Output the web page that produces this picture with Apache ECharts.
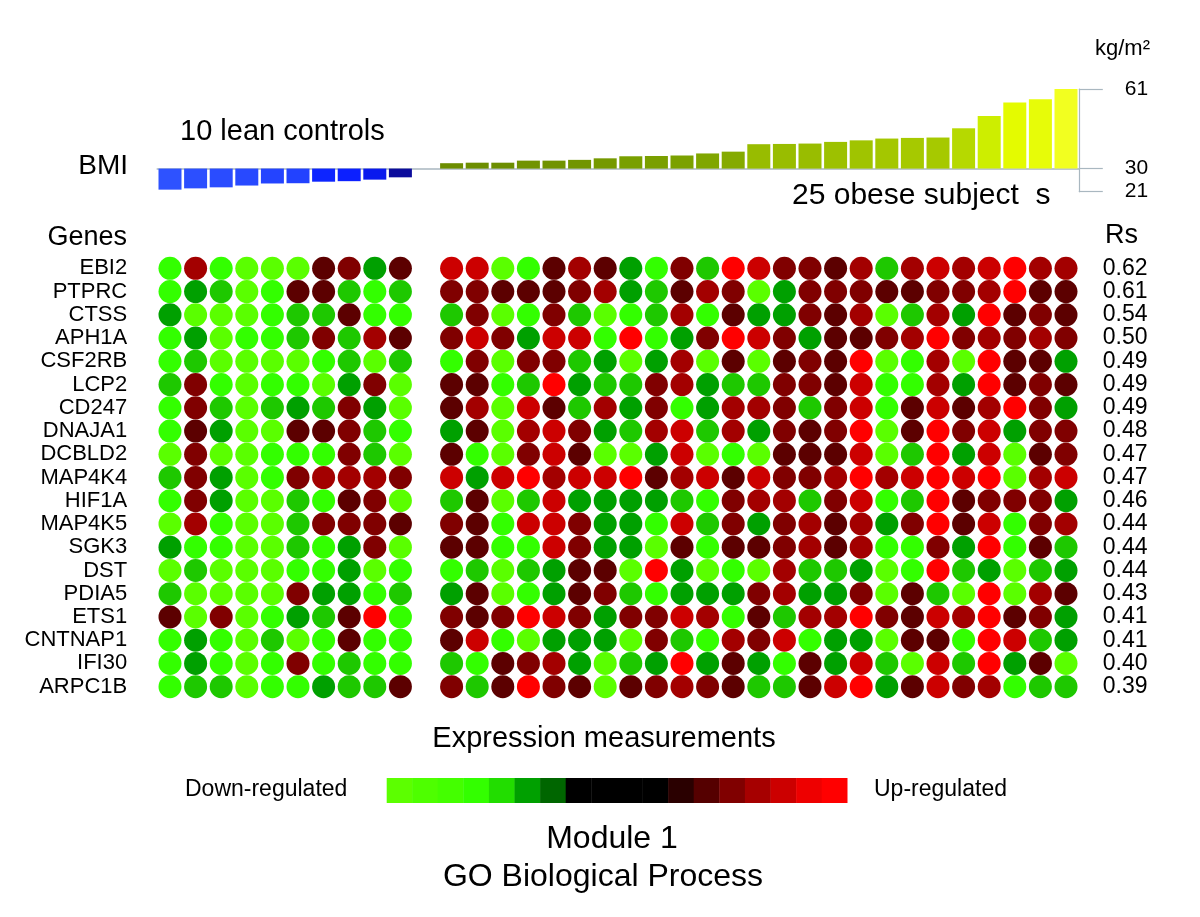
<!DOCTYPE html>
<html><head><meta charset="utf-8">
<script src="https://cdn.jsdelivr.net/npm/echarts@6/dist/echarts.min.js"></script>
<style>html,body{margin:0;padding:0;background:#fff}#c{width:1200px;height:917px}</style>
</head><body><div id="c"></div>
<script>
// ---------------- DATA ----------------
const genes = ['EBI2','PTPRC','CTSS','APH1A','CSF2RB','LCP2','CD247','DNAJA1','DCBLD2','MAP4K4','HIF1A','MAP4K5','SGK3','DST','PDIA5','ETS1','CNTNAP1','IFI30','ARPC1B'];
const rsValues = [0.62,0.61,0.54,0.50,0.49,0.49,0.49,0.48,0.47,0.47,0.46,0.44,0.44,0.44,0.43,0.41,0.41,0.40,0.39];
const leanBMI = [21.8,22.3,22.7,23.4,24.2,24.3,24.9,25.1,25.7,26.6];
const obeseBMI = [32.1,32.3,32.3,33.1,33.1,33.4,34.0,34.8,34.9,35.1,35.9,36.6,39.5,39.6,39.75,40.4,41.0,41.7,41.95,42.1,45.7,50.5,55.7,57.0,61.0];
const bmiTicks = [21, 30, 61];
const bmiBase = 30;
// expression level: -4 (most down) ... -1, 1 ... 5 (most up)
const leanExpr = [
  [-3, 3,-3,-4,-4,-4, 1, 2,-1, 1],
  [-3,-1,-2,-4,-3, 1, 1,-2,-3,-2],
  [-1,-4,-4,-4,-3,-2,-2, 1,-3,-3],
  [-3,-1,-4,-3,-3,-2, 2,-2, 3, 1],
  [-3,-2,-4,-4,-4,-4,-3,-2,-4,-2],
  [-2, 2,-3,-4,-3,-3,-4,-1, 2,-4],
  [-3, 2,-2,-4,-2,-1,-2, 2,-1,-4],
  [-3, 1,-1,-4,-4, 1, 1, 2,-2,-3],
  [-4, 2,-4,-4,-3,-3,-3, 2,-2,-4],
  [-2, 2,-1,-4,-3, 2, 3, 3, 3, 2],
  [-3, 2,-1,-4,-4,-2,-3, 1, 2,-4],
  [-4, 3,-3,-4,-4,-2, 2, 2, 2, 1],
  [-1,-3,-3,-4,-4,-2,-3,-1, 2,-4],
  [-4,-2,-4,-4,-4,-3,-3,-1,-4,-3],
  [-2,-4,-4,-4,-4, 2,-1,-1,-3,-2],
  [ 1,-4, 2,-4,-3,-1,-2, 1, 5,-3],
  [-3,-1,-3,-4,-2,-4,-3, 1,-3,-3],
  [-3,-1,-3,-4,-3, 2,-3,-2,-3,-3],
  [-3,-2,-2,-4,-3,-3,-1,-2,-2, 1]
];
const obeseExpr = [
  [ 4, 4,-4,-3, 1, 3, 1,-1,-3, 2,-2, 5, 4, 2, 2, 1, 3,-2, 3, 4, 3, 4, 5, 3, 3],
  [ 2, 2, 1, 1, 1, 2, 3,-1,-2, 1, 3, 2,-4,-1, 2, 2, 2, 1, 1, 2, 2, 3, 5, 1, 1],
  [-2, 2,-4,-3, 2,-2,-4,-3,-2, 3,-3, 1,-1,-1, 2, 1, 3,-4,-2, 3,-1, 5, 1, 2, 1],
  [ 2, 4, 2,-1, 4, 4,-3, 5,-3,-1, 2, 5, 4, 2,-1, 1, 1, 2, 3, 5, 2, 3, 2, 3, 2],
  [-3, 2,-4, 2, 2,-2,-1,-4,-1, 3,-4, 1,-4, 1, 2, 1, 5,-4,-3, 3,-4, 5, 1, 1,-1],
  [ 1, 1,-3,-2, 5,-1,-2,-2, 2, 3,-1,-2,-2, 2, 2, 1, 4,-3,-3, 3,-1, 5, 1, 2, 1],
  [ 1, 3,-4, 4, 1,-2, 3,-1, 2,-3,-1, 3, 3, 2,-2, 2, 4,-3, 1, 4, 1, 3, 5, 2,-1],
  [-1, 1,-4, 3, 4, 2,-1,-2, 3, 4,-2, 3,-1, 2, 1, 2, 5,-4, 1, 5, 2, 4,-1, 2, 2],
  [ 1,-3,-4, 2, 4, 1,-4,-4,-1, 4,-4,-3,-4, 1, 1, 1, 4,-4,-2, 5,-1, 4,-4, 1, 2],
  [ 4,-1, 4, 5, 3, 4, 4, 5, 1, 3, 4, 1, 4, 2, 2, 3, 5, 3, 4, 5, 4, 5,-4, 3, 4],
  [-2, 1,-4,-2, 4,-1,-1,-1,-1,-2,-3, 2, 3, 3,-2, 2, 4,-3,-2, 5, 1, 2, 2, 2,-1],
  [ 2, 1,-3, 4, 4, 2,-1,-1,-3, 4,-2, 2,-1, 2, 3, 1, 3,-1, 2, 5, 1, 4,-3, 2, 3],
  [ 1, 1,-3,-3, 4, 2,-1,-1,-4, 1,-3, 1, 1, 2, 3, 1, 3,-3,-3, 2,-1, 5,-3, 1,-2],
  [-3,-2,-4,-2,-1, 1, 1,-4, 5,-1,-4,-3,-4, 3,-2,-2,-1,-4,-3, 5,-2,-1,-4,-2,-1],
  [-1, 1,-4,-3,-1, 1, 2,-2,-3,-1,-1,-1, 2, 3,-1,-1, 2,-4, 1,-2,-4, 5,-4, 3, 1],
  [ 2, 1, 2, 5, 4, 2,-1, 2, 2, 4, 3,-3, 1,-2, 3, 3, 5, 2, 1, 4, 3, 5, 1, 2,-1],
  [ 1, 4,-3,-4,-1,-1,-1,-4, 2,-2,-3, 3, 2, 4,-3,-1,-1,-4, 1, 1,-3, 5, 4,-2,-1],
  [-2,-3, 1, 2, 3,-1,-4,-2,-1, 5,-1, 1,-1,-3, 1,-1, 4,-2,-4, 4,-2, 5,-1, 1,-4],
  [ 2,-2, 1, 5, 2, 1,-4, 1, 2, 3, 2, 1,-2,-2, 1, 4, 5,-1, 1, 4, 2, 3,-3,-2,-2]
];
const scaleColors = ['#5cff00','#4eff00','#44ff00','#33ff00','#22dd00','#00a000','#006600','#000000','#000000','#000000','#000000','#2a0000','#550000','#800000','#a60000','#cc0000','#ee0000','#ff0000'];

// ---------------- STYLE ----------------
const FONT = '"Liberation Sans", Arial, Helvetica, sans-serif';
const levelColor = {'-4':'#5aff00','-3':'#33ff00','-2':'#1ec800','-1':'#00a000','1':'#5c0000','2':'#800000','3':'#a30000','4':'#cc0000','5':'#ff0000'};
const leanBarColors = ['#2e52ff','#2c4fff','#2a4cff','#2849ff','#2444ff','#2242ff','#0d25ff','#0c20ff','#0a1aee','#0c0c9c'];
const obeseStops = [[32,[0x6b,0x8c,0x00]],[35,[0x7a,0xa0,0x00]],[39.5,[0x98,0xbc,0x00]],[42,[0xa6,0xc9,0x00]],[45.7,[0xb6,0xd9,0x00]],[50.5,[0xcd,0xee,0x00]],[55.7,[0xe4,0xfb,0x00]],[61,[0xf2,0xff,0x20]]];
function obeseColor(v){
  for(let i=1;i<obeseStops.length;i++){
    const [b,cb]=obeseStops[i],[a,ca]=obeseStops[i-1];
    if(v<=b||i===obeseStops.length-1){
      const t=Math.max(0,Math.min(1,(v-a)/(b-a)));
      return 'rgb('+ca.map((c,k)=>Math.round(c+(cb[k]-c)*t)).join(',')+')';
    }
  }
}
const GRID_LEFT = 157.2, PITCH = 25.6;
const nCols = leanBMI.length + 1 + obeseBMI.length;
const obeseStart = leanBMI.length + 1;
const colCats = Array.from({length:nCols},(_,i)=>'c'+i);

// ---------------- BUILD ----------------
const barData = colCats.map(()=>'-');
leanBMI.forEach((v,j)=>{ barData[j] = {value: v - bmiBase, itemStyle:{color: leanBarColors[j]}}; });
obeseBMI.forEach((v,j)=>{ barData[obeseStart+j] = {value: v - bmiBase, itemStyle:{color: obeseColor(v)}}; });

const dots = [];
genes.forEach((g,i)=>{
  leanExpr[i].forEach((v,j)=>dots.push({value:[j,i,v],itemStyle:{color:levelColor[String(v)]}}));
  obeseExpr[i].forEach((v,j)=>dots.push({value:[obeseStart+j,i,v],itemStyle:{color:levelColor[String(v)]}}));
});

const txt = (text,x,y,size,align)=>({type:'text',x:x,y:y,silent:true,style:{text:text,font:size+'px '+FONT,fill:'#000',align:align||'left',verticalAlign:'middle'}});

const chart = echarts.init(document.getElementById('c'),null,{renderer:'canvas'});
chart.setOption({
  backgroundColor:'#fff',
  animation:false,
  grid:[
    {left:GRID_LEFT, top:89, width:nCols*PITCH, height:102.7},
    {left:GRID_LEFT, top:256.7, width:nCols*PITCH, height:441.6},
    {left:386.7, top:778, width:scaleColors.length*PITCH, height:25}
  ],
  xAxis:[
    {gridIndex:0,type:'category',data:colCats,axisLine:{onZero:true,lineStyle:{color:'#a9b7c0',width:1.5}},axisTick:{show:false},axisLabel:{show:false}},
    {gridIndex:1,type:'category',data:colCats,show:false},
    {gridIndex:2,type:'category',data:scaleColors.map((c,i)=>'s'+i),show:false}
  ],
  yAxis:[
    {gridIndex:0,type:'value',position:'right',min:bmiTicks[0]-bmiBase,max:bmiTicks[2]-bmiBase,
      axisLine:{show:true,lineStyle:{color:'#a9b7c0',width:1.2}},
      axisTick:{show:true,length:24,customValues:bmiTicks.map(t=>t-bmiBase),lineStyle:{color:'#a9b7c0',width:1.2}},
      axisLabel:{customValues:bmiTicks.map(t=>t-bmiBase),formatter:v=>String(v+bmiBase),margin:46,fontSize:21,color:'#000',fontFamily:FONT,hideOverlap:false},
      splitLine:{show:false}},
    {gridIndex:1,type:'category',data:genes,inverse:true,axisLine:{show:false},axisTick:{show:false},
      axisLabel:{interval:0,fontSize:22,color:'#000',fontFamily:FONT,margin:30}},
    {gridIndex:1,type:'category',data:rsValues.map(v=>v.toFixed(2)),inverse:true,position:'right',axisLine:{show:false},axisTick:{show:false},
      axisLabel:{interval:0,fontSize:23,color:'#000',fontFamily:FONT,margin:24}},
    {gridIndex:2,type:'value',min:0,max:1,show:false}
  ],
  series:[
    {type:'bar',xAxisIndex:0,yAxisIndex:0,data:barData,barWidth:23,silent:true},
    {type:'scatter',xAxisIndex:1,yAxisIndex:1,data:dots,symbol:'circle',symbolSize:23,silent:true,
      itemStyle:{opacity:1}},
    {type:'bar',xAxisIndex:2,yAxisIndex:3,data:scaleColors.map(c=>({value:1,itemStyle:{color:c}})),barWidth:26,silent:true}
  ],
  graphic:[
    txt('kg/m²',1095,49,22),
    txt('10 lean controls',180,132,29),
    txt('BMI',128,166,28,'right'),
    txt('25 obese subject  s',792,196,30),
    txt('Genes',127,238,27,'right'),
    txt('Rs',1105,236,27),
    txt('Expression measurements',604,739,29,'center'),
    txt('Down-regulated',185,790,23),
    txt('Up-regulated',874,790,23),
    txt('Module 1',612,839,32,'center'),
    txt('GO Biological Process',603,877,32,'center')
  ]
});
</script></body></html>
